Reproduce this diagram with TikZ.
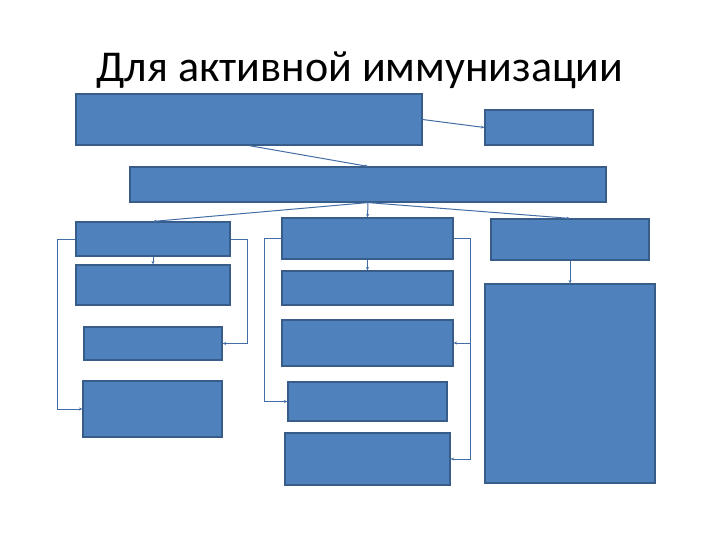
\documentclass[tikz,border=0pt]{standalone}
\usepackage{fontspec}
\setmainfont{Carlito}
\usetikzlibrary{arrows.meta}
\definecolor{blokfill}{RGB}{79,129,189}
\definecolor{blokline}{RGB}{56,93,138}
\definecolor{strelka}{RGB}{66,110,165}
\begin{document}
\begin{tikzpicture}[x=1pt,y=-1pt,
    blok/.style={draw=blokline,fill=blokfill,line width=1.2pt,inner sep=0pt},
    arr/.style={-{Stealth[length=3.5pt,width=3pt]},draw=strelka,line width=1pt}]
          \useasboundingbox (0,0) rectangle (720,540);
          \node[font=\fontsize{44}{50}\selectfont,anchor=base] (title) at (360,82) {Для активной иммунизации};
          % top row
          \node[blok,minimum width=346pt,minimum height=51pt] (t1) at (249,119.5) {};
          \node[blok,minimum width=108pt,minimum height=35pt] (t2) at (539,127.5) {};
          \node[blok,minimum width=476pt,minimum height=35pt] (m) at (368,184.5) {};
          % left column
          \node[blok,minimum width=154pt,minimum height=34pt] (a1) at (153,239) {};
          \node[blok,minimum width=154pt,minimum height=40pt] (a2) at (153,285) {};
          \node[blok,minimum width=138pt,minimum height=33pt] (a3) at (153,343.5) {};
          \node[blok,minimum width=139pt,minimum height=56pt] (a4) at (152.5,409) {};
          % middle column
          \node[blok,minimum width=171pt,minimum height=41pt] (b1) at (367.5,238.5) {};
          \node[blok,minimum width=171pt,minimum height=34pt] (b2) at (367.5,288) {};
          \node[blok,minimum width=171pt,minimum height=46pt] (b3) at (367.5,343) {};
          \node[blok,minimum width=159pt,minimum height=39pt] (b4) at (367.5,401.5) {};
          \node[blok,minimum width=165pt,minimum height=52pt] (b5) at (367.5,459) {};
          % right column
          \node[blok,minimum width=158pt,minimum height=41pt] (c1) at (570,239.5) {};
          \node[blok,minimum width=170pt,minimum height=199pt] (c2) at (570,383.5) {};
          % connectors
          \draw[arr] (t1.east) -- (t2.west);
          \draw[arr] (t1.south) -- (m.north);
          \draw[arr] (m.south) -- (a1.north);
          \draw[arr] (m.south) -- (b1.north);
          \draw[arr] (m.south) -- (c1.north);
          \draw[arr] (a1.south) -- (a2.north);
          \draw[arr] (a1.west) -- ++(-18,0) |- (a4.west);
          \draw[arr] (a1.east) -- ++(17,0) |- (a3.east);
          \draw[arr] (b1.south) -- (b2.north);
          \draw[arr] (b1.west) -- ++(-17,0) |- (b4.west);
          \draw[arr] (b1.east) -- ++(17,0) coordinate (br) |- (b5.east);
          \draw[arr] (br) |- (b3.east);
          \draw[arr] (c1.south) -- (c2.north);
        \end{tikzpicture}
\end{document}
